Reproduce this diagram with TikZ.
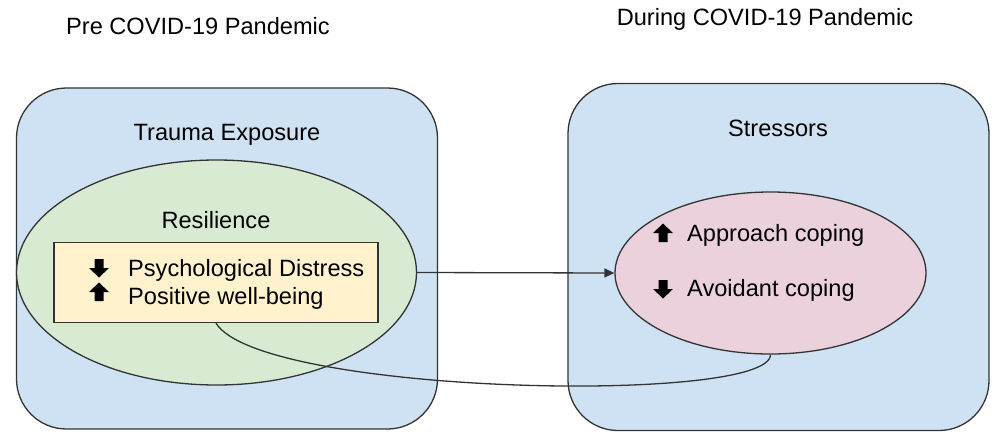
\documentclass[tikz,border=0pt]{standalone}
\usepackage{fontspec}
\setmainfont{Liberation Sans}
\usetikzlibrary{shapes.geometric,arrows.meta}
\definecolor{boxblue}{HTML}{CFE2F3}
\definecolor{resgreen}{HTML}{D9EAD3}
\definecolor{noteyellow}{HTML}{FFF2CC}
\definecolor{copepink}{HTML}{EAD1DC}
\definecolor{linegray}{HTML}{333333}
\tikzset{
  risemark/.pic={\fill[black] (-4.5,9) -- (-4.5,0) -- (-10,0) -- (0,-9.5) -- (10,0) -- (4.5,0) -- (4.5,9) -- cycle;},
  fallmark/.pic={\fill[black] (-4.5,-9) -- (-4.5,0) -- (-10,0) -- (0,9.5) -- (10,0) -- (4.5,0) -- (4.5,-9) -- cycle;}
}
\begin{document}
\begin{tikzpicture}[x=1pt,y=-1pt]
        \tikzstyle{phase}=[rectangle,rounded corners=50pt,draw=linegray,fill=boxblue,line width=1.3pt,minimum width=421pt,minimum height=341pt,inner sep=0pt]
        \tikzstyle{oval}=[ellipse,draw=linegray,line width=1.3pt,inner sep=0pt]
        \tikzstyle{txt}=[font=\fontsize{23.6}{28}\selectfont,anchor=base,inner sep=0pt]
        \tikzstyle{edge}=[draw=linegray,line width=1.3pt]
        \useasboundingbox (0,0) rectangle (995,434);
        \begin{scope}
           \node [phase] (pre) at (227,258.5) {};
           \node [phase,minimum height=347pt] (during) at (778.5,257) {};
           \node [oval,fill=resgreen,minimum width=400pt,minimum height=225pt] (resil) at (216.5,272.5) {};
           \node [rectangle,draw=linegray,line width=1.3pt,fill=noteyellow,minimum width=324pt,minimum height=80pt] (note) at (216,282.5) {};
           \node [oval,fill=copepink,minimum width=311pt,minimum height=162pt] (cope) at (770.5,273) {};
           \node [txt] (pretitle) at (198,34) {Pre COVID-19 Pandemic};
           \node [txt] (duringtitle) at (765,25) {During COVID-19 Pandemic};
           \node [txt] (trauma) at (227,140) {Trauma Exposure};
           \node [txt] (stress) at (778,136) {Stressors};
           \node [txt] (resiltitle) at (216,228) {Resilience};
           \node [txt,anchor=base west] (distress) at (128,276) {Psychological Distress};
           \node [txt,anchor=base west] (wellbeing) at (128,304) {Positive well-being};
           \node [txt,anchor=base west] (approach) at (687,241) {Approach coping};
           \node [txt,anchor=base west] (avoidant) at (687,296) {Avoidant coping};
           \pic (distressdown) at (99,268) {fallmark};
           \pic (wellbeingup) at (99,292) {risemark};
           \pic (approachup) at (663,233) {risemark};
           \pic (avoidantdown) at (663,289) {fallmark};
           \path[edge,-{Triangle[length=10pt,width=9pt]}] (resil.east) -- (cope.west);
           \path[edge] (note.south) .. controls (260,395) and (770,405) .. (cope.south);
        \end{scope}
      \end{tikzpicture}
\end{document}
